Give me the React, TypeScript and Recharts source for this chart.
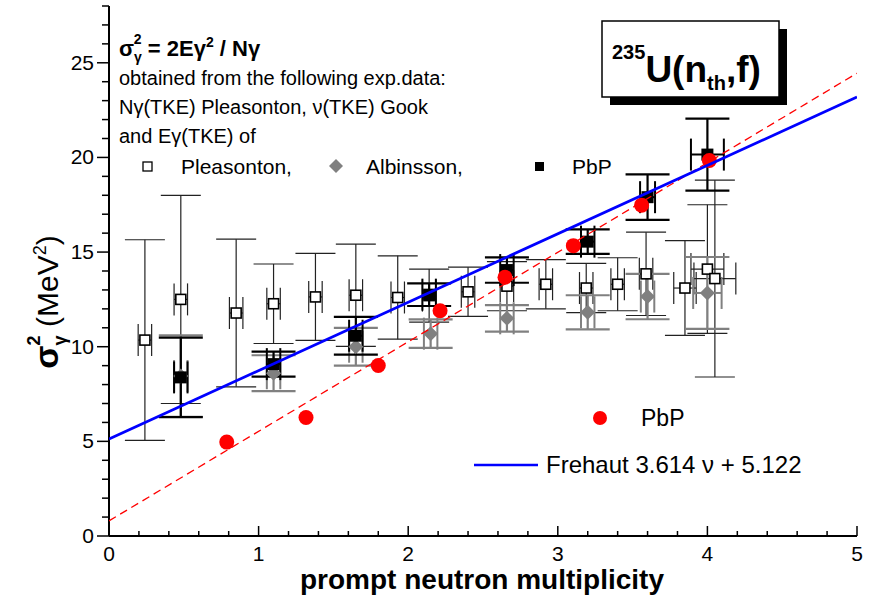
import React from "react";
import { ComposedChart, Scatter, XAxis, YAxis, ErrorBar } from "recharts";

// Pleasonton (open squares)
const pleasonton = [
  { x: 0.24, y: 10.35, ey: 5.3, ex: 0.045 },
  { x: 0.48, y: 12.5, ey: 5.5, ex: 0.045 },
  { x: 0.85, y: 11.78, ey: 3.9, ex: 0.045 },
  { x: 1.1, y: 12.27, ey: 2.1, ex: 0.045 },
  { x: 1.38, y: 12.63, ey: 2.3, ex: 0.045 },
  { x: 1.65, y: 12.72, ey: 2.7, ex: 0.045 },
  { x: 1.93, y: 12.6, ey: 2.2, ex: 0.045 },
  { x: 2.14, y: 12.7, ey: 1.4, ex: 0.045 },
  { x: 2.4, y: 12.9, ey: 1.3, ex: 0.045 },
  { x: 2.66, y: 13.2, ey: 1.3, ex: 0.045 },
  { x: 2.92, y: 13.3, ey: 1.3, ex: 0.045 },
  { x: 3.19, y: 13.1, ey: 1.3, ex: 0.045 },
  { x: 3.4, y: 13.3, ey: 1.4, ex: 0.045 },
  { x: 3.59, y: 13.85, ey: 2.2, ex: 0.045 },
  { x: 3.85, y: 13.1, ey: 2.5, ex: 0.075 },
  { x: 4.0, y: 14.1, ey: 3.4, ex: 0.11 },
  { x: 4.05, y: 13.6, ey: 5.2, ex: 0.14 },
];

// Albinsson (grey diamonds)
const albinsson = [
  { x: 0.48, y: 8.45, ey: 2.15, ex: 0.045 },
  { x: 1.1, y: 8.6, ey: 0.95, ex: 0.045 },
  { x: 1.65, y: 10.0, ey: 1.0, ex: 0.045 },
  { x: 2.15, y: 10.69, ey: 0.75, ex: 0.045 },
  { x: 2.66, y: 11.5, ey: 0.7, ex: 0.045 },
  { x: 3.2, y: 11.82, ey: 0.9, ex: 0.045 },
  { x: 3.6, y: 12.65, ey: 1.2, ex: 0.045 },
  { x: 4.0, y: 12.84, ey: 1.9, ex: 0.095 },
];

// PbP from exp. data (black squares)
const pbpExp = [
  { x: 0.48, y: 8.38, ey: 2.1, ex: 0.045 },
  { x: 1.1, y: 9.08, ey: 0.66, ex: 0.045 },
  { x: 1.65, y: 10.58, ey: 1.0, ex: 0.045 },
  { x: 2.14, y: 12.75, ey: 0.6, ex: 0.045 },
  { x: 2.66, y: 14.05, ey: 0.67, ex: 0.045 },
  { x: 3.2, y: 15.55, ey: 0.65, ex: 0.045 },
  { x: 3.6, y: 17.9, ey: 1.2, ex: 0.05 },
  { x: 4.0, y: 20.15, ey: 1.9, ex: 0.11 },
];

// PbP calculation (red circles)
const pbpCalc = [
  { x: 0.787, y: 4.96 },
  { x: 1.317, y: 6.26 },
  { x: 1.8, y: 9.01 },
  { x: 2.213, y: 11.9 },
  { x: 2.647, y: 13.67 },
  { x: 3.104, y: 15.34 },
  { x: 3.56, y: 17.48 },
  { x: 4.013, y: 19.84 },
];

// Frehaut 3.614 v + 5.122
const frehaut = [
  { x: 0, y: 5.122 },
  { x: 5, y: 23.192 },
];

// linear fit through PbP (red dashed)
const pbpFit = [
  { x: 0, y: 0.8 },
  { x: 5, y: 24.45 },
];

const xMajor = [0, 1, 2, 3, 4, 5];
const yMajor = [0, 5, 10, 15, 20, 25];
const xTicks = Array.from({ length: 26 }, (_, i) => Math.round(i * 2) / 10);
const yTicks = Array.from({ length: 29 }, (_, i) => i);

const FONT = "'Liberation Sans', Arial, Helvetica, sans-serif";
const GREY = "#808080";

const BottomTick = ({ x, y, payload }: any) => {
  const major = xMajor.includes(payload.value);
  return (
    <g>
      <line x1={x} x2={x} y1={y} y2={y - (major ? 10 : 5)} stroke="#000" strokeWidth={1.5} />
      {major && (
        <text x={x} y={y + 25} textAnchor="middle" fontSize={21} fontFamily={FONT} fill="#000">
          {payload.value}
        </text>
      )}
    </g>
  );
};

const TopTick = ({ x, y, payload }: any) => {
  const major = xMajor.includes(payload.value);
  return <line x1={x} x2={x} y1={y} y2={y + (major ? 10 : 5)} stroke="#000" strokeWidth={1.5} />;
};

const LeftTick = ({ x, y, payload }: any) => {
  const major = yMajor.includes(payload.value);
  return (
    <g>
      <line x1={x} x2={x - (major ? 12 : 7)} y1={y} y2={y} stroke="#000" strokeWidth={1.5} />
      {major && (
        <text x={x - 15} y={y + 7} textAnchor="end" fontSize={21} fontFamily={FONT} fill="#000">
          {payload.value}
        </text>
      )}
    </g>
  );
};

const RightTick = ({ x, y, payload }: any) => {
  const major = yMajor.includes(payload.value);
  return <line x1={x} x2={x - (major ? 12 : 6)} y1={y} y2={y} stroke="#000" strokeWidth={1.5} />;
};

const OpenSquare = ({ cx, cy }: any) => (
  <rect x={cx - 5} y={cy - 5} width={10} height={10} fill="#fff" stroke="#000" strokeWidth={1.6} />
);
const BlackSquare = ({ cx, cy }: any) => (
  <rect x={cx - 6} y={cy - 6} width={12} height={12} fill="#000" />
);
const Diamond = ({ cx, cy }: any) => (
  <path d={`M${cx},${cy - 7.5}L${cx + 7.5},${cy}L${cx},${cy + 7.5}L${cx - 7.5},${cy}Z`} fill={GREY} />
);
const RedDot = ({ cx, cy }: any) => <circle cx={cx} cy={cy} r={7.5} fill="#ff0000" />;
const NoDot = () => <g />;

function Overlay() {
  return (
    <svg
      width={871}
      height={603}
      style={{ position: "absolute", left: 0, top: 0, pointerEvents: "none" }}
      fontFamily={FONT}
    >
      {/* formula and description */}
      <text x={119} y={56} fontSize={22} fontWeight="bold">
        σ<tspan dy={6} fontSize={14}>γ</tspan>
        <tspan dx={-8} dy={-18} fontSize={14}>2</tspan>
        <tspan dy={12}> = 2Eγ</tspan>
        <tspan dy={-9} fontSize={14}>2</tspan>
        <tspan dy={9}> / Nγ</tspan>
      </text>
      <text x={119} y={85} fontSize={20}>obtained from the following exp.data:</text>
      <text x={119} y={114} fontSize={20}>Nγ(TKE) Pleasonton, ν(TKE) Gook</text>
      <text x={119} y={143} fontSize={20}>and Eγ(TKE) of</text>
      <rect x={143} y={162} width={9} height={9} fill="#fff" stroke="#000" strokeWidth={1.3} />
      <text x={181} y={174} fontSize={21}>Pleasonton,</text>
      <path d="M336,159L343,166L336,173L329,166Z" fill={GREY} />
      <text x={366} y={174} fontSize={21}>Albinsson,</text>
      <rect x={535} y={162} width={9} height={9} fill="#000" />
      <text x={572} y={174} fontSize={21}>PbP</text>

      {/* reaction label box */}
      <rect x={610} y={29} width={177} height={76} fill="#000" />
      <rect x={602} y={21} width={177} height={76} fill="#fff" stroke="#000" strokeWidth={1.5} />
      <text x={612} y={82} fontSize={37} fontWeight="bold">
        <tspan fontSize={20} dy={-23}>235</tspan>
        <tspan dy={23}>U(n</tspan>
        <tspan fontSize={20} dy={8}>th</tspan>
        <tspan dy={-8}>,f)</tspan>
      </text>

      {/* lower legend */}
      <circle cx={600} cy={418} r={7} fill="#ff0000" />
      <text x={641} y={426} fontSize={23}>PbP</text>
      <line x1={474} x2={538} y1={465} y2={465} stroke="#0000ff" strokeWidth={2.5} />
      <text x={546} y={473} fontSize={24}>Frehaut 3.614 ν + 5.122</text>

      {/* axis titles */}
      <text x={482} y={589} fontSize={28} fontWeight="bold" textAnchor="middle">
        prompt neutron multiplicity
      </text>
      <g transform="translate(58,302) rotate(-90)">
        <text x={0} y={0} fontSize={30} textAnchor="middle">
          <tspan fontWeight="bold" fontSize={34}>σ</tspan>
          <tspan dy={8} fontSize={18} fontWeight="bold">γ</tspan>
          <tspan dx={-10} dy={-26} fontSize={18} fontWeight="bold">2</tspan>
          <tspan dy={18}> (MeV</tspan>
          <tspan dy={-12} fontSize={18}>2</tspan>
          <tspan dy={12}>)</tspan>
        </text>
      </g>
    </svg>
  );
}

export default function App() {
  return (
    <div style={{ position: "absolute", left: 0, top: 0, width: 871, height: 603, background: "#fff" }}>
      <ComposedChart width={871} height={603} margin={{ top: 6, right: 14, bottom: 0, left: 0 }}>
        <XAxis
          dataKey="x"
          type="number"
          domain={[0, 5]}
          ticks={xTicks}
          interval={0}
          height={67}
          tickSize={0}
          tickMargin={0}
          tickLine={false}
          axisLine={{ stroke: "#000", strokeWidth: 2 }}
          tick={BottomTick}
          allowDataOverflow
        />
        <XAxis
          xAxisId="top"
          orientation="top"
          dataKey="x"
          type="number"
          domain={[0, 5]}
          ticks={xTicks}
          interval={0}
          height={0}
          tickSize={0}
          tickMargin={0}
          tickLine={false}
          axisLine={{ stroke: "#000", strokeWidth: 2 }}
          tick={TopTick}
          allowDataOverflow
        />
        <YAxis
          dataKey="y"
          type="number"
          domain={[0, 28]}
          ticks={yTicks}
          interval={0}
          width={109}
          tickSize={0}
          tickMargin={0}
          tickLine={false}
          axisLine={{ stroke: "#000", strokeWidth: 2 }}
          tick={LeftTick}
          allowDataOverflow
        />
        <YAxis
          yAxisId="right"
          orientation="right"
          dataKey="y"
          type="number"
          domain={[0, 28]}
          ticks={yTicks}
          interval={0}
          width={0}
          tickSize={0}
          tickMargin={0}
          tickLine={false}
          axisLine={{ stroke: "#000", strokeWidth: 2 }}
          tick={RightTick}
          allowDataOverflow
        />

        <Scatter data={pleasonton} shape={OpenSquare} isAnimationActive={false}>
          <ErrorBar dataKey="ey" direction="y" width={20} stroke="#222" strokeWidth={1.2} />
          <ErrorBar dataKey="ex" direction="x" width={16} stroke="#222" strokeWidth={1.2} />
        </Scatter>
        <Scatter data={albinsson} shape={Diamond} isAnimationActive={false}>
          <ErrorBar dataKey="ey" direction="y" width={22} stroke={GREY} strokeWidth={2.2} />
          <ErrorBar dataKey="ex" direction="x" width={16} stroke={GREY} strokeWidth={2} />
        </Scatter>
        <Scatter data={pbpExp} shape={BlackSquare} isAnimationActive={false}>
          <ErrorBar dataKey="ey" direction="y" width={22} stroke="#000" strokeWidth={2.2} />
          <ErrorBar dataKey="ex" direction="x" width={16} stroke="#000" strokeWidth={2} />
        </Scatter>
        <Scatter data={pbpCalc} shape={RedDot} isAnimationActive={false} />
        <Scatter
          data={pbpFit}
          shape={NoDot}
          line={{ stroke: "#ff0000", strokeWidth: 1.3, strokeDasharray: "8 5" }}
          isAnimationActive={false}
        />
        <Scatter
          data={frehaut}
          shape={NoDot}
          line={{ stroke: "#0000ff", strokeWidth: 2.8 }}
          isAnimationActive={false}
        />
      </ComposedChart>
      <Overlay />
    </div>
  );
}
